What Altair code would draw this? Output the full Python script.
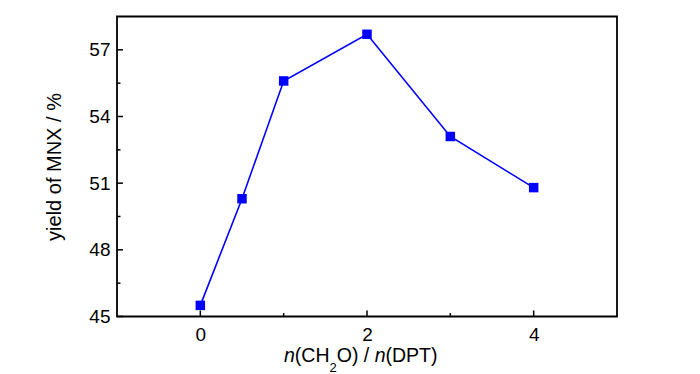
import altair as alt
import pandas as pd

# ---- data ----
ratio = [0, 0.5, 1, 2, 3, 4]
yield_pct = [45.5, 50.3, 55.6, 57.7, 53.1, 50.8]

x_major = [0, 2, 4]
x_minor = [1, 3]
y_major = [45, 48, 51, 54, 57]
y_minor = [46.5, 49.5, 52.5, 55.5]

x_domain = [-1, 5]
y_domain = [45, 58.5]

FONT = "Liberation Sans"
BLUE = "#0000FF"
W, H = 500, 300

xs = alt.Scale(domain=x_domain, nice=False, zero=False)
ys = alt.Scale(domain=y_domain, nice=False, zero=False)

x_axis = alt.Axis(values=x_major, ticks=False, domain=False, grid=False,
                  labelFontSize=19, labelFont=FONT, labelColor="black",
                  labelPadding=9, title=None, format="d")
y_axis = alt.Axis(values=y_major, ticks=False, domain=False, grid=False,
                  labelFontSize=19, labelFont=FONT, labelColor="black",
                  labelPadding=7, title="yield of MNX / %",
                  titleFont=FONT, titleFontSize=20, titleFontWeight="normal",
                  titleColor="black", titleX=-63, titleY=150,
                  titleAngle=-90, titleAlign="center", titleBaseline="middle")

df = pd.DataFrame({"ratio": ratio, "yield": yield_pct})

base = alt.Chart(df).encode(
    x=alt.X("ratio:Q", scale=xs, axis=x_axis, title=None),
    y=alt.Y("yield:Q", scale=ys, axis=y_axis, title="yield of MNX / %"),
)
line = base.mark_line(color=BLUE, strokeWidth=1.6)
pts = base.mark_square(size=90, color=BLUE, opacity=1)

# inward ticks
def yticks(vals, length):
    return alt.Chart(pd.DataFrame({"yield": vals})).mark_rule(color="black", strokeWidth=1.5).encode(
        y=alt.Y("yield:Q", scale=ys, axis=y_axis, title="yield of MNX / %"),
        x=alt.value(0), x2=alt.value(length))

def xticks(vals, length):
    return alt.Chart(pd.DataFrame({"ratio": vals})).mark_rule(color="black", strokeWidth=1.5).encode(
        x=alt.X("ratio:Q", scale=xs, axis=x_axis, title=None),
        y=alt.value(H), y2=alt.value(H - length))

# x-axis title with italic n and subscript 2
em = {"n": .556, "(": .333, ")": .333, "C": .722, "H": .722, "2": .556, "O": .778,
      " ": .278, "/": .278, "D": .722, "P": .667, "T": .611}
pieces = [("n", "italic", 19.5, 0), ("(CH", "normal", 19.5, 0), ("2", "normal", 13, 10),
          ("O)", "normal", 19.5, 0), (" ", "normal", 19.5, 0), ("/", "normal", 19.5, 0),
          (" ", "normal", 19.5, 0), ("n", "italic", 19.5, 0), ("(DPT)", "normal", 19.5, 0)]
title_layers = []
cx = 167
base_y = 345
for txt, style, size, dy in pieces:
    w = sum(em[c] for c in txt) * size
    if txt.strip():
        title_layers.append(
            alt.Chart(pd.DataFrame({"t": [txt]})).mark_text(
                font=FONT, fontSize=size, fontStyle=style, color="black",
                align="left", baseline="alphabetic").encode(
                text="t:N", x=alt.value(cx), y=alt.value(base_y + dy)))
    cx += w

chart = alt.layer(
    line, pts,
    yticks(y_major, 6), yticks(y_minor, 3.5),
    xticks(x_major, 6), xticks(x_minor, 3.5),
    *title_layers,
).properties(
    width=W, height=H,
    autosize=alt.AutoSizeParams(type="none"),
    padding={"left": 109, "top": 8.5, "right": 75, "bottom": 58},
).configure_view(stroke="black", strokeWidth=1.8)

chart.save("out.html", embed_options={"renderer": "svg", "actions": False})
